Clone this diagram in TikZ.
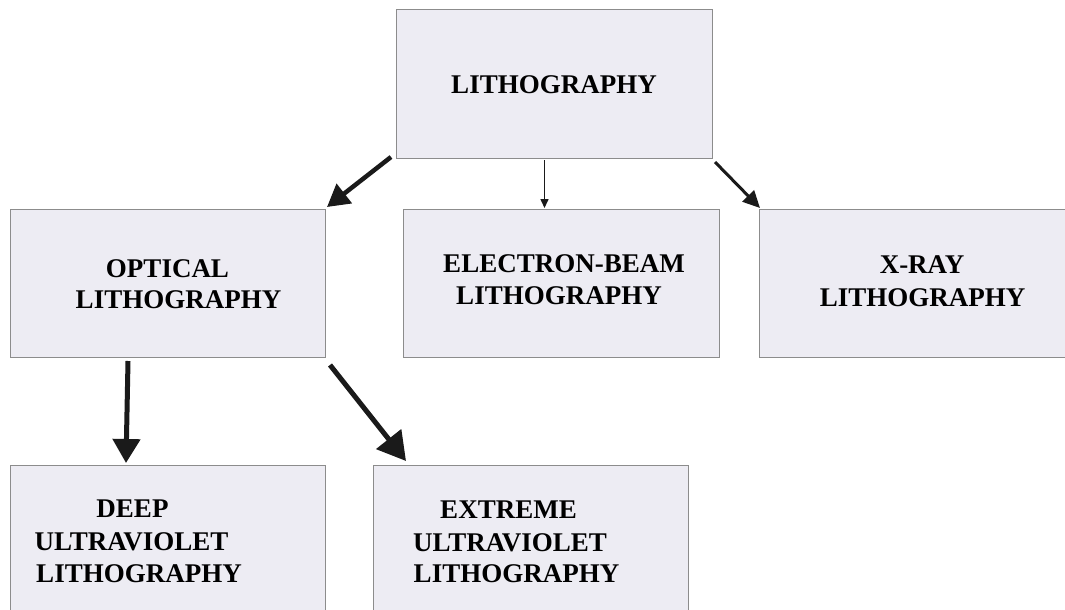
\documentclass[tikz,border=0pt]{standalone}
\usepackage{fontspec}
\setmainfont{Liberation Serif}
\usetikzlibrary{arrows.meta}
\definecolor{boxfill}{HTML}{EDECF3}
\definecolor{boxline}{HTML}{8C8C8C}
\definecolor{ink}{HTML}{1A1A1A}
\begin{document}
\begin{tikzpicture}[x=1pt,y=-1pt,
  box/.style={draw=boxline, fill=boxfill, line width=1pt, rectangle, anchor=north west, inner sep=0pt},
  lbl/.style={anchor=base, inner sep=0pt, font=\fontsize{27}{33}\selectfont\bfseries, text=black},
  arrbig/.style={draw=ink, line width=4.5pt, -{Triangle[length=22pt,width=24pt]}},
  arrthin/.style={draw=ink, line width=1.5pt, -{Triangle[length=9pt,width=8pt]}},
  arrmid/.style={draw=ink, line width=3pt, -{Triangle[length=17pt,width=16pt]}},
  arrdeep/.style={draw=ink, line width=5pt, -{Triangle[length=24pt,width=27pt]}},
  arrext/.style={draw=ink, line width=5pt, -{Triangle[length=28pt,width=31pt]}}
]
\clip (0,0) rectangle (1065,610);
\fill[white] (0,0) rectangle (1065,610);
% boxes
\node[box, minimum width=316pt, minimum height=149pt] (litho) at (396,9) {};
\node[box, minimum width=315pt, minimum height=148pt] (optical) at (10,209) {};
\node[box, minimum width=316pt, minimum height=148pt] (ebeam) at (403,209) {};
\node[box, minimum width=330pt, minimum height=148pt] (xray) at (759,209) {};
\node[box, minimum width=315pt, minimum height=160pt] (deep) at (10,465) {};
\node[box, minimum width=315pt, minimum height=160pt] (extreme) at (373,465) {};
% labels
\node[lbl] (lithoT) at (554,93) {LITHOGRAPHY};
\node[lbl] (opticalA) at (167.5,277) {OPTICAL};
\node[lbl] (opticalB) at (178.5,308) {LITHOGRAPHY};
\node[lbl] (ebeamA) at (564,272) {ELECTRON-BEAM};
\node[lbl] (ebeamB) at (559,304) {LITHOGRAPHY};
\node[lbl] (xrayA) at (922,273) {X-RAY};
\node[lbl] (xrayB) at (922.5,306) {LITHOGRAPHY};
\node[lbl] (deepA) at (132.5,517) {DEEP};
\node[lbl] (deepB) at (131.5,550) {ULTRAVIOLET};
\node[lbl] (deepC) at (139,582) {LITHOGRAPHY};
\node[lbl] (extA) at (508.5,518) {EXTREME};
\node[lbl] (extB) at (510,551) {ULTRAVIOLET};
\node[lbl] (extC) at (516.5,582) {LITHOGRAPHY};
% connectors
\draw[arrbig] ([xshift=-5pt,yshift=2pt]litho.south west) -- ([xshift=1pt,yshift=2pt]optical.north east);
\draw[arrthin] ([xshift=-10pt,yshift=-1pt]litho.south) -- ([xshift=-10pt,yshift=1pt]litho.south |- ebeam.north);
\draw[arrmid] ([xshift=2pt,yshift=-3pt]litho.south east) -- ([xshift=1pt,yshift=1pt]xray.north west);
\draw[arrdeep] ([xshift=-40pt,yshift=-3pt]optical.south) -- ([xshift=-42pt,yshift=2pt]deep.north);
\draw[arrext] ([xshift=4pt,yshift=-7pt]optical.south east) -- ([xshift=33pt,yshift=4pt]extreme.north west);
\end{tikzpicture}
\end{document}
